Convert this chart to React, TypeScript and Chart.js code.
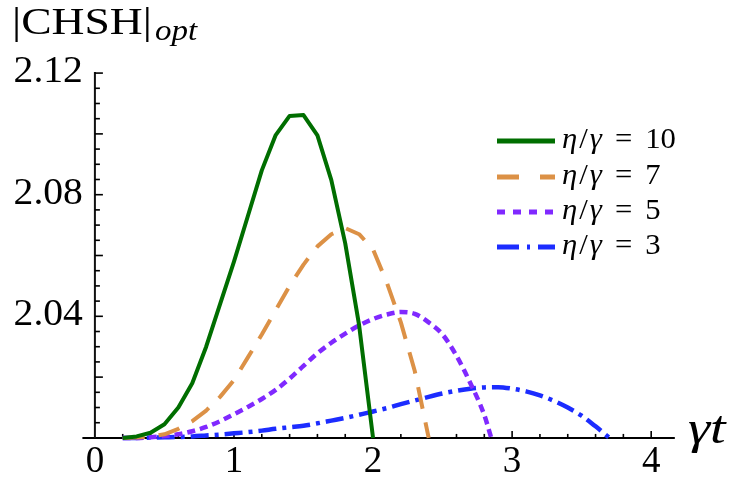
import { useEffect, useRef } from "react";
import { Chart, registerables } from "chart.js";

Chart.register(...registerables);

// Optimal CHSH value versus dimensionless time γt, for four coupling ratios η/γ
const tEta10 = [0.2, 0.3, 0.4, 0.5, 0.6, 0.7, 0.8, 0.9, 1.0, 1.1, 1.2, 1.3, 1.4, 1.5, 1.6, 1.7, 1.8, 1.9, 2.0];
const chshEta10 = [2.0, 2.0005, 2.0017, 2.0045, 2.01, 2.018, 2.03, 2.044, 2.058, 2.073, 2.088, 2.0996, 2.1059, 2.1062, 2.0995, 2.0848, 2.064, 2.037, 2.0];

const tEta7 = [0.2, 0.3, 0.4, 0.5, 0.6, 0.7, 0.8, 0.9, 1.0, 1.1, 1.2, 1.3, 1.4, 1.5, 1.6, 1.7, 1.8, 1.9, 2.0, 2.1, 2.2, 2.3, 2.4];
const chshEta7 = [2.0, 2.0001, 2.0004, 2.0012, 2.003, 2.0055, 2.009, 2.0135, 2.019, 2.0265, 2.034, 2.042, 2.05, 2.057, 2.063, 2.067, 2.069, 2.067, 2.062, 2.051, 2.038, 2.022, 2.0];

const tEta5 = [0.2, 0.3, 0.4, 0.5, 0.6, 0.7, 0.8, 0.9, 1.0, 1.1, 1.2, 1.3, 1.4, 1.5, 1.6, 1.7, 1.8, 1.9, 2.0, 2.1, 2.2, 2.3, 2.4, 2.5, 2.6, 2.7, 2.8, 2.85];
const chshEta5 = [2.0, 2.0, 2.0002, 2.0006, 2.0012, 2.0022, 2.0036, 2.0055, 2.0078, 2.0102, 2.0128, 2.0158, 2.0195, 2.0237, 2.0278, 2.0313, 2.0343, 2.037, 2.0391, 2.0406, 2.0414, 2.0408, 2.038, 2.034, 2.027, 2.018, 2.0075, 2.0];

const tEta3 = [0.2, 0.3, 0.4, 0.5, 0.6, 0.7, 0.8, 0.9, 1.0, 1.1, 1.2, 1.3, 1.4, 1.5, 1.6, 1.7, 1.8, 1.9, 2.0, 2.1, 2.2, 2.3, 2.4, 2.5, 2.6, 2.7, 2.8, 2.9, 3.0, 3.1, 3.2, 3.3, 3.4, 3.5, 3.6, 3.7];
const chshEta3 = [2.0, 2.0, 2.0001, 2.0002, 2.0003, 2.0005, 2.0008, 2.0011, 2.0015, 2.0019, 2.0024, 2.003, 2.0035, 2.004, 2.0048, 2.0057, 2.0066, 2.0076, 2.0087, 2.0098, 2.0111, 2.0123, 2.0135, 2.0146, 2.0155, 2.0162, 2.0166, 2.0167, 2.0162, 2.0153, 2.014, 2.0122, 2.01, 2.0073, 2.0038, 2.0];

const seriesRatios = ["10", "7", "5", "3"];
const seriesColors = ["#006e00", "#dc9146", "#8029ff", "#1c2cff"];

const xTickLabels = ["0", "1", "2", "3", "4"];
const yTickLabels = ["2.04", "2.08", "2.12"];

const SERIF = "'Liberation Serif', 'Times New Roman', serif";

const pairs = (ts: number[], vs: number[]) => ts.map((t, i) => ({ x: t, y: vs[i] }));

const dashFor = [[], [22, 14], [8, 5], [18, 6, 4, 6]];
const legendDash = [[], [22, 21], [8, 8], [22, 8, 3, 8]];
const widthFor = [4, 4, 4.5, 4.5];
const smoothFor = [false, false, true, true];

// draw text stretched horizontally around its left edge
function wideText(ctx: CanvasRenderingContext2D, s: string, x: number, y: number, sx: number) {
  ctx.save();
  ctx.translate(x, y);
  ctx.scale(sx, 1);
  ctx.fillText(s, 0, 0);
  const w = ctx.measureText(s).width * sx;
  ctx.restore();
  return w;
}

const axesPlugin = {
  id: "frameAxes",
  beforeDatasetsDraw(chart: any) {
    const { ctx } = chart;
    const xs = chart.scales.x;
    const ys = chart.scales.y;
    const px = (v: number) => xs.getPixelForValue(v);
    const py = (v: number) => ys.getPixelForValue(v);
    const x0 = px(0);
    const y0 = py(2.0);
    ctx.save();
    ctx.strokeStyle = "#000";
    ctx.lineWidth = 2;
    ctx.beginPath();
    ctx.moveTo(px(-0.09), y0);
    ctx.lineTo(px(4.17), y0);
    ctx.stroke();
    ctx.strokeStyle = "#111";
    ctx.beginPath();
    ctx.moveTo(x0, y0);
    ctx.lineTo(x0, py(2.12) - 1);
    ctx.stroke();

    ctx.strokeStyle = "#000";
    ctx.lineWidth = 1.6;
    // x ticks every 0.2, longer on the integers
    for (let k = 1; k <= 20; k++) {
      const v = k * 0.2;
      const len = k % 5 === 0 ? 7 : 4;
      ctx.beginPath();
      ctx.moveTo(px(v), y0);
      ctx.lineTo(px(v), y0 - len);
      ctx.stroke();
    }
    // y ticks every 0.005, longer every 0.02
    for (let k = 1; k <= 24; k++) {
      const v = 2 + k * 0.005;
      const len = k % 4 === 0 ? 8 : 5;
      ctx.beginPath();
      ctx.moveTo(x0, py(v));
      ctx.lineTo(x0 + len, py(v));
      ctx.stroke();
    }

    ctx.fillStyle = "#000";
    ctx.font = `37px ${SERIF}`;
    ctx.textBaseline = "alphabetic";
    ctx.textAlign = "center";
    xTickLabels.forEach((lab) => {
      ctx.fillText(lab, px(parseFloat(lab)), 472);
    });
    ctx.textAlign = "left";
    yTickLabels.forEach((lab) => {
      const w = ctx.measureText(lab).width * 1.07;
      wideText(ctx, lab, x0 - 12 - w, py(parseFloat(lab)) + 9, 1.07);
    });

    // axis titles
    ctx.font = `38px ${SERIF}`;
    const w = wideText(ctx, "|CHSH|", 12, 34, 1.2);
    ctx.font = `italic 30px ${SERIF}`;
    wideText(ctx, "opt", 12 + w + 3, 40, 1.1);
    ctx.font = `italic 46px ${SERIF}`;
    wideText(ctx, "γt", 688, 443, 1.22);
    ctx.restore();
  },
  afterDraw(chart: any) {
    const { ctx } = chart;
    const rows = [141, 177, 212, 247];
    ctx.save();
    seriesRatios.forEach((r, i) => {
      const y = rows[i];
      ctx.strokeStyle = seriesColors[i];
      ctx.lineWidth = 5;
      ctx.setLineDash(legendDash[i]);
      ctx.lineCap = "butt";
      ctx.beginPath();
      ctx.moveTo(497, y);
      ctx.lineTo(555, y);
      ctx.stroke();
      ctx.setLineDash([]);

      ctx.fillStyle = "#000";
      ctx.textBaseline = "alphabetic";
      ctx.textAlign = "left";
      const sx = 1.06;
      let x = 562;
      const ty = y + 7;
      ctx.font = `italic 29px ${SERIF}`;
      x += wideText(ctx, "η", x, ty, sx) + 2;
      ctx.font = `29px ${SERIF}`;
      x += wideText(ctx, "/", x, ty, sx) + 2;
      ctx.font = `italic 29px ${SERIF}`;
      x += wideText(ctx, "γ", x, ty, sx) + 13;
      ctx.font = `29px ${SERIF}`;
      x += wideText(ctx, "=", x, ty, sx) + 13;
      wideText(ctx, r, x, ty, sx);
    });
    ctx.restore();
  },
};

export default function App() {
  const canvasRef = useRef<HTMLCanvasElement | null>(null);

  useEffect(() => {
    if (!canvasRef.current) return;
    const series = [
      pairs(tEta10, chshEta10),
      pairs(tEta7, chshEta7),
      pairs(tEta5, chshEta5),
      pairs(tEta3, chshEta3),
    ];
    const chart = new Chart(canvasRef.current, {
      type: "line",
      data: {
        datasets: series.map((d, i) => ({
          label: `η/γ = ${seriesRatios[i]}`,
          data: d,
          borderColor: seriesColors[i],
          backgroundColor: seriesColors[i],
          borderWidth: widthFor[i],
          borderDash: dashFor[i],
          borderCapStyle: "butt" as const,
          borderJoinStyle: "round" as const,
          pointRadius: 0,
          tension: 0,
          cubicInterpolationMode: smoothFor[i] ? ("monotone" as const) : ("default" as const),
          fill: false,
        })),
      },
      options: {
        animation: false,
        responsive: false,
        layout: { padding: { left: 81, right: 60, top: 67, bottom: 40 } },
        scales: {
          x: { type: "linear", min: -0.1, max: 4.2, display: false },
          y: { type: "linear", min: 1.998, max: 2.122, display: false },
        },
        plugins: {
          legend: { display: false },
          tooltip: { enabled: false },
          title: { display: false },
        },
      },
      plugins: [axesPlugin],
    });
    return () => chart.destroy();
  }, []);

  return (
    <div style={{ position: "fixed", left: 0, top: 0, width: 739, height: 484, background: "#fff" }}>
      <canvas ref={canvasRef} width={739} height={484} style={{ display: "block" }} />
    </div>
  );
}
